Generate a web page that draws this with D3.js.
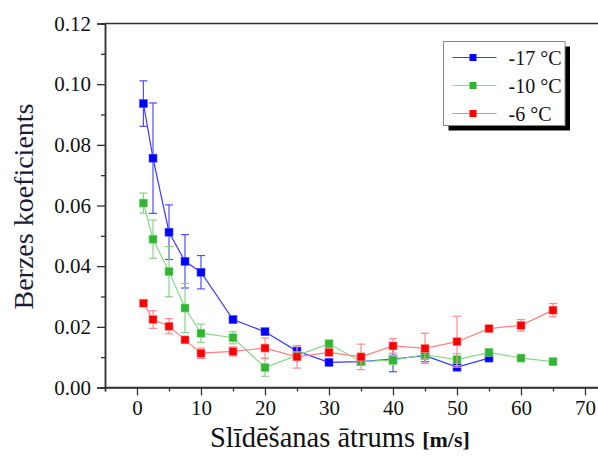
<!DOCTYPE html>
<html><head><meta charset="utf-8">
<script src="https://cdn.jsdelivr.net/npm/d3@7"></script>
<style>body{margin:0;background:#fff}svg{display:block}</style>
</head><body>
<svg id="c" width="598" height="459"></svg>
<script>
const speeds = [1, 2.5, 5, 7.5, 10, 15, 20, 25, 30, 35, 40, 45, 50, 55, 60, 65];
const seriesNames = ["-17 °C", "-10 °C", "-6 °C"];
const minus17 = [0.0936, 0.0756, 0.0512, 0.0416, 0.0380, 0.0224, 0.0184, 0.0120, 0.0083, 0.0085, 0.0094, 0.0105, 0.0067, 0.0097];
const minus17Err = [0.0075, 0.0182, 0.0090, 0.0088, 0.0055, 0.0010, 0.0008, 0.0012, 0.0008, 0.0010, 0.0042, 0.0020, 0.0010, 0.0008];
const minus10 = [0.0608, 0.0489, 0.0382, 0.0262, 0.0179, 0.0164, 0.0066, 0.0106, 0.0144, 0.0085, 0.0090, 0.0108, 0.0092, 0.0116, 0.0097, 0.0085];
const minus10Err = [0.0033, 0.0063, 0.0083, 0.0081, 0.0030, 0.0020, 0.0029, 0.0010, 0.0012, 0.0010, 0.0015, 0.0015, 0.0020, 0.0010, 0.0010, 0.0012];
const minus6 = [0.0278, 0.0224, 0.0202, 0.0157, 0.0113, 0.0119, 0.0130, 0.0101, 0.0116, 0.0101, 0.0137, 0.0129, 0.0151, 0.0194, 0.0205, 0.0255];
const minus6Err = [0.0010, 0.0029, 0.0025, 0.0008, 0.0017, 0.0015, 0.0033, 0.0037, 0.0012, 0.0042, 0.0024, 0.0050, 0.0084, 0.0008, 0.0019, 0.0022];
const xTicks = [0, 10, 20, 30, 40, 50, 60, 70];
const yTicks = [0, 0.02, 0.04, 0.06, 0.08, 0.10, 0.12];

const styles = [
  {marker: "#0000ff", line: "#3a3aff", err: "#4f4fff"},
  {marker: "#2fb52f", line: "#86d886", err: "#8ad08a"},
  {marker: "#ff0000", line: "#ff8080", err: "#ff8a8a"}
];
const series = [
  {name: seriesNames[0], vals: minus17, errs: minus17Err},
  {name: seriesNames[1], vals: minus10, errs: minus10Err},
  {name: seriesNames[2], vals: minus6, errs: minus6Err}
].map((s, i) => ({...s, style: styles[i],
  pts: s.vals.map((v, j) => ({x: speeds[j], y: v, e: s.errs[j]}))}));

const svg = d3.select("#c");
const font = "'Liberation Serif','Times New Roman',serif";
const plotLeft = 105, plotTop = 23.5, plotBottom = 387.5;
const x = d3.scaleLinear().domain([-5, 74]).range([plotLeft, plotLeft + 79 * 6.4]);
const y = d3.scaleLinear().domain([0, 0.12]).range([plotBottom, plotTop]);

// frame top line
svg.append("line").attr("x1", plotLeft).attr("x2", 600).attr("y1", plotTop).attr("y2", plotTop)
  .attr("stroke", "#333").attr("stroke-width", 1.5);

// axes
const xMinor = d3.range(-5, 74, 5).filter(v => v % 10 !== 0);
const yMinor = d3.range(0.01, 0.12, 0.02);
const gx = svg.append("g").attr("transform", `translate(0,${plotBottom})`);
gx.call(d3.axisBottom(x).tickValues(xTicks).tickSize(8).tickPadding(5).tickFormat(d3.format("d")));
gx.append("g").call(d3.axisBottom(x).tickValues(xMinor).tickSize(4).tickFormat(""));
const gy = svg.append("g").attr("transform", `translate(${plotLeft},0)`);
gy.call(d3.axisLeft(y).tickValues(yTicks).tickSize(8).tickPadding(6).tickFormat(d3.format(".2f")));
gy.append("g").call(d3.axisLeft(y).tickValues(yMinor).tickSize(4).tickFormat(""));
svg.selectAll(".domain").attr("stroke", "#333").attr("stroke-width", 1.5);
gx.select(".domain").attr("d", `M${plotLeft},0H600`);
svg.selectAll(".tick line").attr("stroke", "#333").attr("stroke-width", 1.3);
svg.selectAll(".tick text").attr("font-family", font).attr("font-size", 21).attr("fill", "#111");

// axis titles
svg.append("text").attr("transform", `translate(33,206.5) rotate(-90)`)
  .attr("text-anchor", "middle").attr("font-family", font).attr("font-size", 28).attr("fill", "#1c1c38")
  .text("Berzes koeficients");
const xt = svg.append("text").attr("x", 210).attr("y", 447).attr("font-family", font).attr("fill", "#111");
xt.append("tspan").attr("font-size", 28.5).text("Slīdēšanas ātrums ");
xt.append("tspan").attr("font-size", 22).attr("font-weight", "bold").text("[m/s]");

// series
const line = d3.line().x(d => x(d.x)).y(d => y(d.y));
series.forEach(s => {
  const g = svg.append("g");
  g.append("path").attr("d", line(s.pts)).attr("fill", "none")
    .attr("stroke", s.style.line).attr("stroke-width", 1.2);
  const eb = g.selectAll("g.eb").data(s.pts).join("g").attr("stroke", s.style.err).attr("stroke-width", 1.2);
  eb.append("line").attr("x1", d => x(d.x)).attr("x2", d => x(d.x))
    .attr("y1", d => y(d.y + d.e)).attr("y2", d => y(d.y - d.e));
  eb.append("line").attr("x1", d => x(d.x) - 4).attr("x2", d => x(d.x) + 4)
    .attr("y1", d => y(d.y + d.e)).attr("y2", d => y(d.y + d.e));
  eb.append("line").attr("x1", d => x(d.x) - 4).attr("x2", d => x(d.x) + 4)
    .attr("y1", d => y(d.y - d.e)).attr("y2", d => y(d.y - d.e));
  g.selectAll("rect").data(s.pts).join("rect")
    .attr("x", d => x(d.x) - 4).attr("y", d => y(d.y) - 4)
    .attr("width", 8).attr("height", 8).attr("fill", s.style.marker)
    .attr("stroke", s.style.err).attr("stroke-width", 0.6);
});

// legend
const lg = svg.append("g").attr("transform", "translate(443.5,41.5)");
lg.append("rect").attr("x", 5).attr("y", 5).attr("width", 121.5).attr("height", 84).attr("fill", "#000");
lg.append("rect").attr("width", 121.5).attr("height", 84).attr("fill", "#fff").attr("stroke", "#888").attr("stroke-width", 1);
series.forEach((s, i) => {
  const yy = 16 + i * 28;
  lg.append("line").attr("x1", 9).attr("x2", 53).attr("y1", yy).attr("y2", yy)
    .attr("stroke", s.style.line).attr("stroke-width", 1.2);
  lg.append("rect").attr("x", 26).attr("y", yy - 3.5).attr("width", 7).attr("height", 7).attr("fill", s.style.marker);
  lg.append("text").attr("x", 65).attr("y", yy + 7).attr("font-family", font).attr("font-size", 20)
    .attr("fill", "#111").text(s.name);
});
</script>
</body></html>
